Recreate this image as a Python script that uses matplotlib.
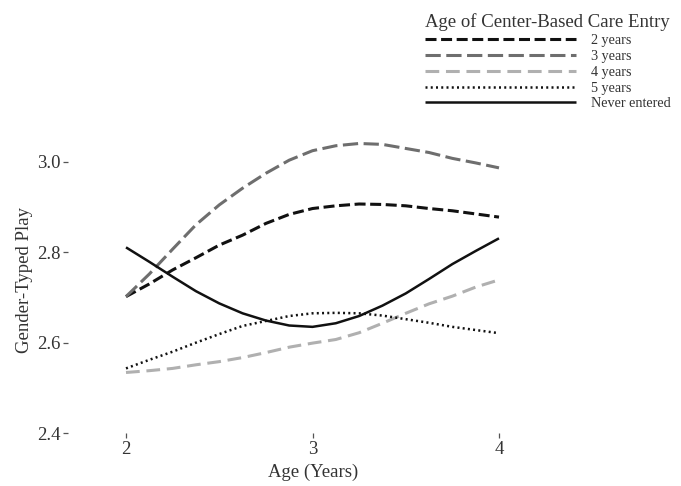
import matplotlib
matplotlib.use("Agg")
import matplotlib.pyplot as plt

plt.rcParams['font.family'] = ['Liberation Serif', 'DejaVu Serif']

age = [2.0, 2.125, 2.25, 2.375, 2.5, 2.625, 2.75, 2.875, 3.0,
       3.125, 3.25, 3.375, 3.5, 3.625, 3.75, 3.875, 4.0]
series_labels = ["2 years", "3 years", "4 years", "5 years", "Never entered"]
y_2yrs = [2.702, 2.730, 2.761, 2.788, 2.816, 2.838, 2.864, 2.884, 2.897,
          2.903, 2.907, 2.906, 2.903, 2.897, 2.892, 2.885, 2.878]
y_3yrs = [2.702, 2.752, 2.807, 2.861, 2.905, 2.942, 2.975, 3.004, 3.025,
          3.036, 3.041, 3.039, 3.030, 3.021, 3.008, 2.998, 2.987]
y_4yrs = [2.534, 2.538, 2.543, 2.551, 2.558, 2.567, 2.578, 2.590, 2.599,
          2.607, 2.622, 2.643, 2.665, 2.686, 2.703, 2.723, 2.739]
y_5yrs = [2.543, 2.562, 2.580, 2.600, 2.619, 2.637, 2.648, 2.659, 2.665,
          2.666, 2.665, 2.660, 2.652, 2.644, 2.635, 2.628, 2.621]
y_never = [2.811, 2.779, 2.746, 2.714, 2.687, 2.665, 2.649, 2.638, 2.635,
           2.643, 2.659, 2.682, 2.709, 2.741, 2.774, 2.803, 2.831]
x_ticks = [2, 3, 4]
y_ticks = [2.4, 2.6, 2.8, 3.0]

W, H = 681, 486
fig = plt.figure(figsize=(W / 100, H / 100), dpi=100)
L, R, B, T = 68, 515, 433, 120
ax = fig.add_axes([L / W, (H - B) / H, (R - L) / W, (B - T) / H])

styles = [
    dict(color="#111111", lw=2.2, ls=(0, (3.6, 1.5))),
    dict(color="#6e6e6e", lw=2.2, ls=(0, (5.0, 1.8))),
    dict(color="#b0b0b0", lw=2.2, ls=(0, (4.5, 2.2))),
    dict(color="#111111", lw=1.8, ls=(0, (0.8, 1.3))),
    dict(color="#111111", lw=1.8, ls="-"),
]
data = [y_2yrs, y_3yrs, y_4yrs, y_5yrs, y_never]
handles = []
for lab, ys, st in zip(series_labels, data, styles):
    h, = ax.plot(age, ys, label=lab, color=st["color"], lw=st["lw"],
                 linestyle=st["ls"], solid_capstyle="butt", dash_capstyle="butt",
                 solid_joinstyle="round")
    handles.append(h)

px_per_x = (499 - 126) / 2.0
px_per_y = (433 - 162) / 0.6
ax.set_xlim(2 - (126 - L) / px_per_x, 4 + (R - 499) / px_per_x)
ax.set_ylim(2.4, 3.0 + (162 - T) / px_per_y)

for s in ax.spines.values():
    s.set_visible(False)
ax.set_xticks(x_ticks)
ax.set_xticklabels([str(v) for v in x_ticks])
ax.set_yticks(y_ticks)
ax.set_yticklabels([f"{v:.1f}" for v in y_ticks])
ax.tick_params(axis="both", direction="out", length=3.5, width=0.9, colors="#555555",
               labelcolor="#333333", labelsize=13.5, pad=2)

ax.set_xlabel("Age (Years)", fontsize=13.5, color="#333333")
ax.set_ylabel("Gender-Typed Play", fontsize=13.5, color="#333333")
ax.xaxis.set_label_coords((313 - L) / (R - L), (B - 464) / (B - T))
ax.yaxis.set_label_coords((33 - L) / (R - L), (B - 280) / (B - T))

leg = fig.legend(handles=handles, labels=series_labels, loc="upper left",
                 bbox_to_anchor=(419 / W, 1 - 7 / H), frameon=False,
                 title="Age of Center-Based Care Entry", title_fontsize=13.5,
                 fontsize=10.2, handlelength=10.6, handletextpad=1.1,
                 labelspacing=0.2, borderaxespad=0, borderpad=0.45,
                 alignment="left")
for t in leg.get_texts():
    t.set_color("#333333")
leg.get_title().set_color("#333333")

fig.savefig("out.png", dpi=100)
